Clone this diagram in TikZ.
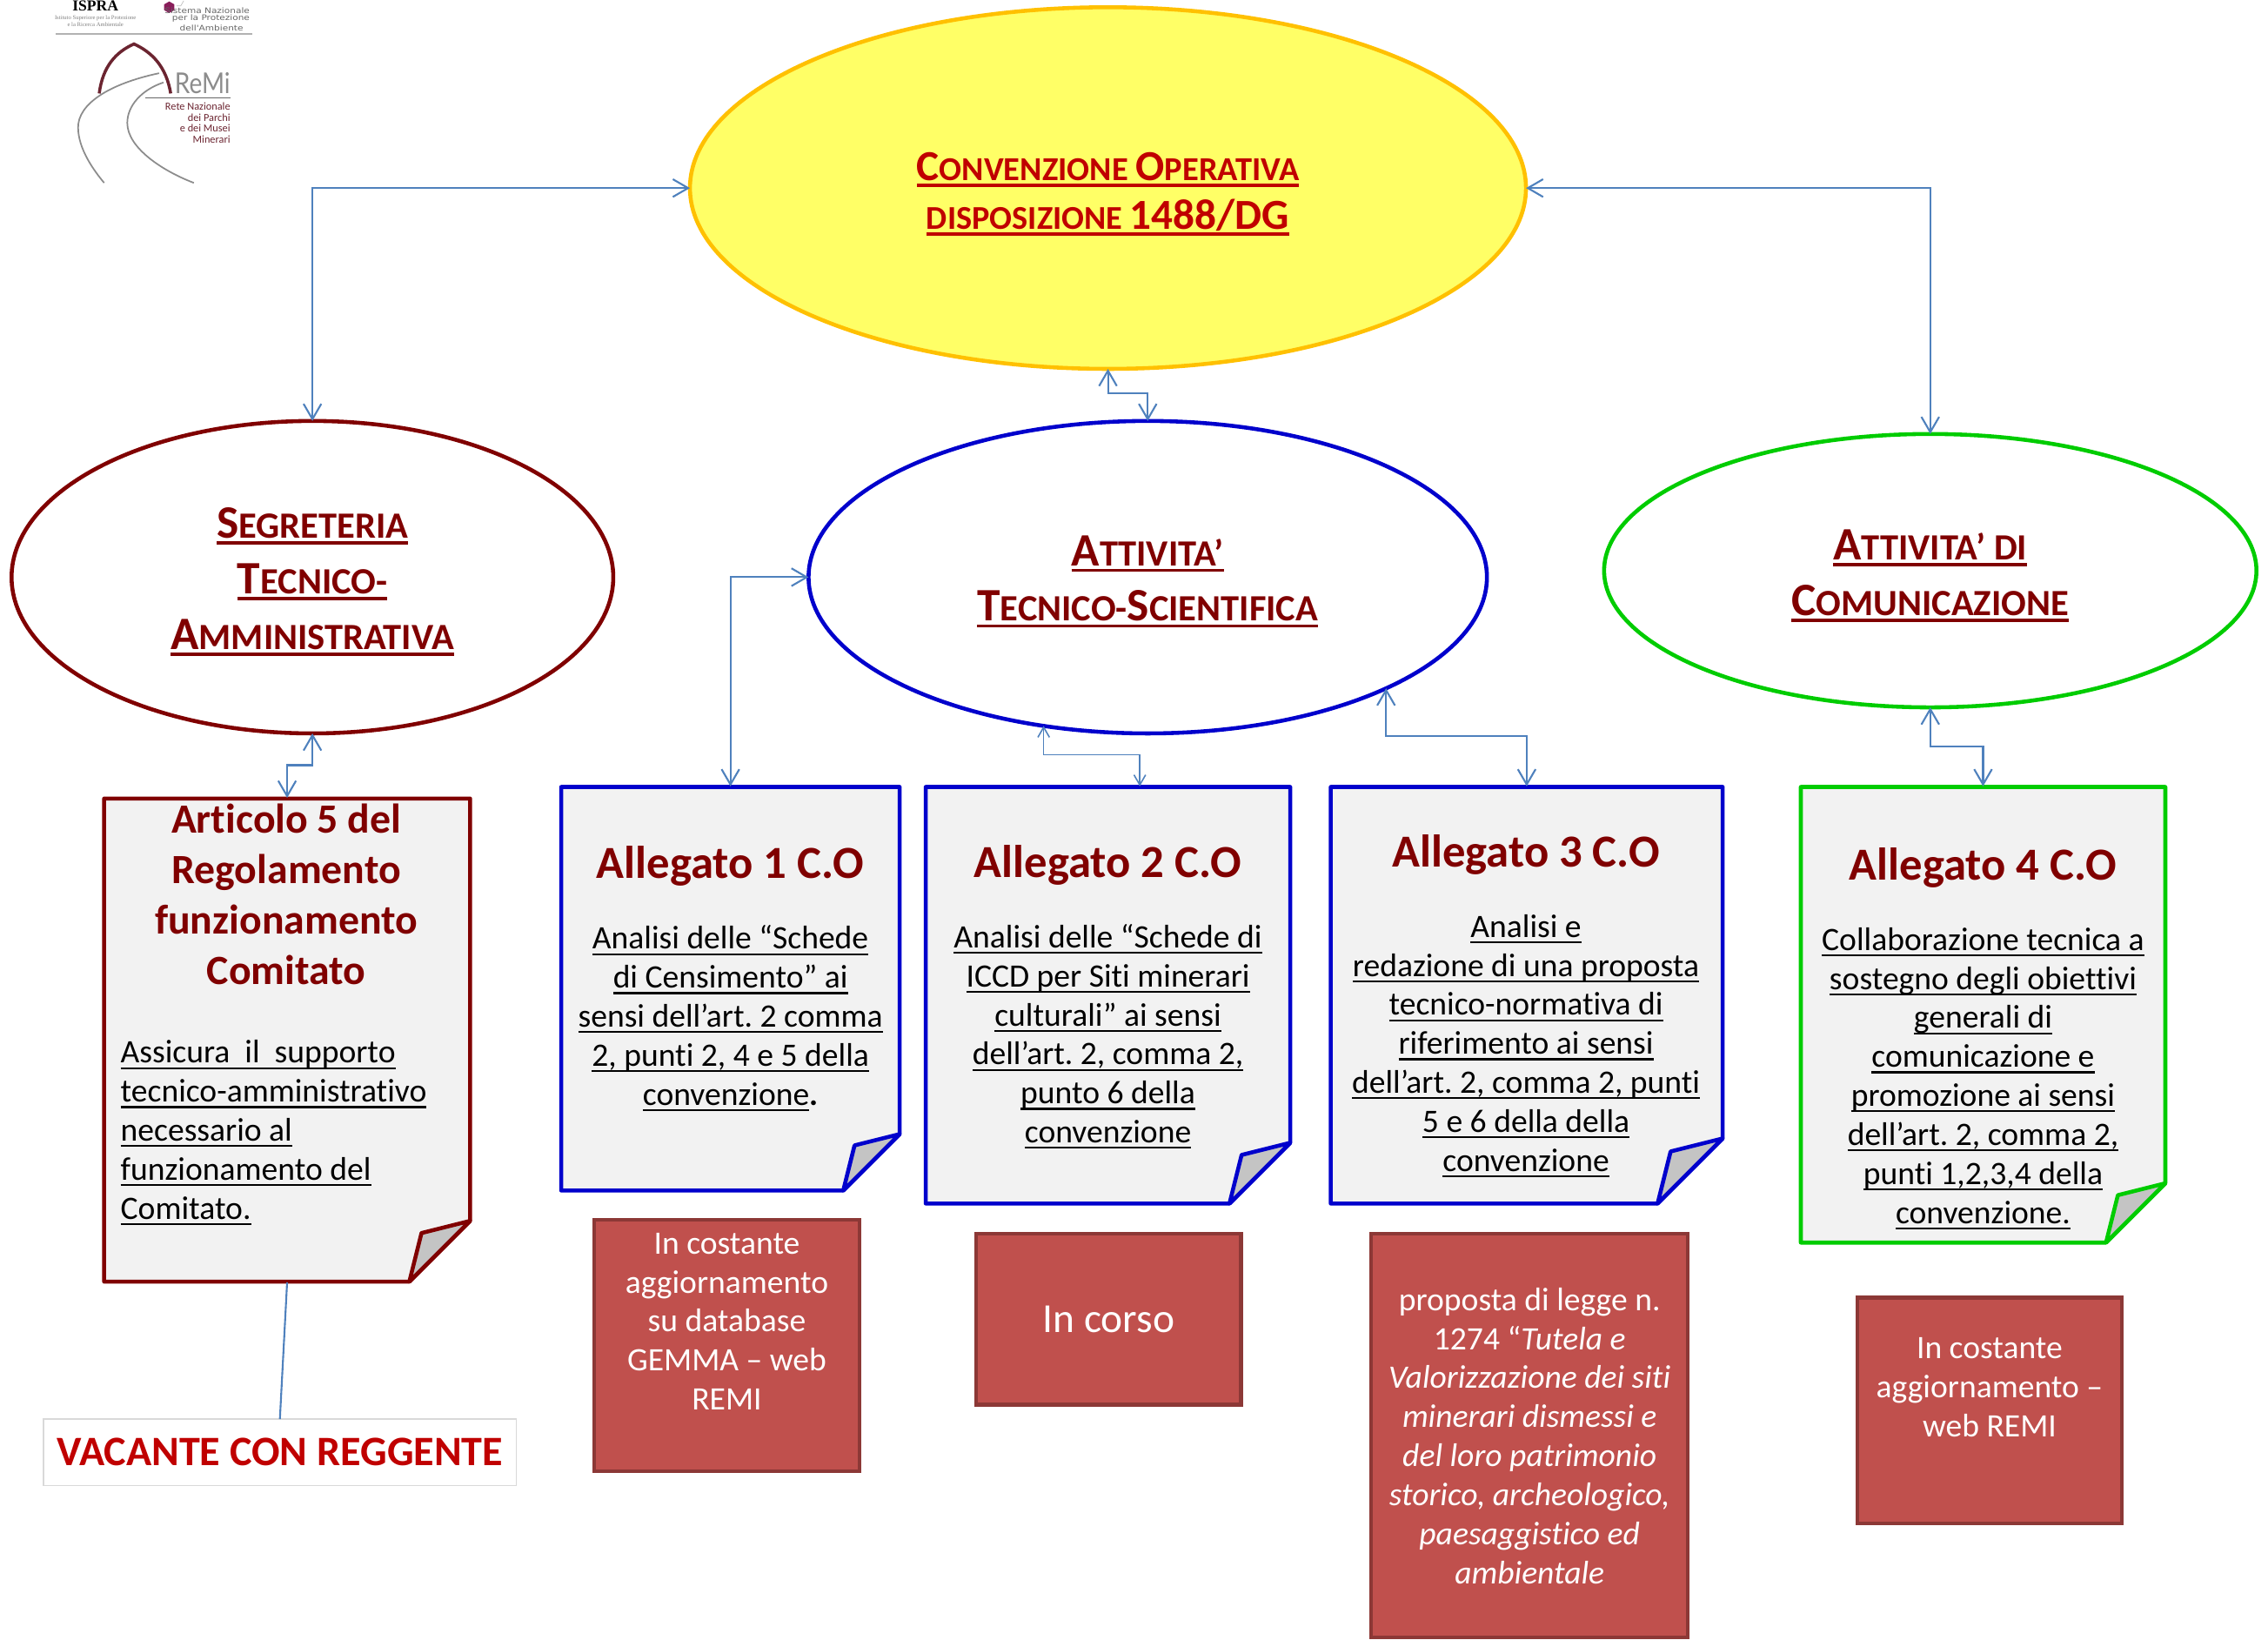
\documentclass[tikz,border=0pt]{standalone}
\usepackage{fontspec}
\setmainfont{Carlito}[Ligatures=NoCommon]
\newfontfamily\logoserif{Liberation Serif}
\newfontfamily\logosans{DejaVu Sans}[FakeStretch=1.2]
\newfontfamily\remifont{Lato}[FakeStretch=0.85]
\usetikzlibrary{arrows.meta,calc,shapes.geometric}
\frenchspacing

\definecolor{convfill}{HTML}{FFFF66}
\definecolor{convline}{HTML}{FFC000}
\definecolor{maroon}{HTML}{800000}
\definecolor{titlered}{HTML}{C00000}
\definecolor{techblue}{HTML}{0000CC}
\definecolor{commgreen}{HTML}{00CC00}
\definecolor{linkblue}{HTML}{4F81BD}
\definecolor{statefill}{HTML}{C0504D}
\definecolor{stateline}{HTML}{8C3836}
\definecolor{pagefill}{HTML}{F2F2F2}
\definecolor{foldfill}{HTML}{C4C4C4}
\definecolor{remired}{HTML}{6B2430}

\def\pxu{0.016626cm}
\newcommand{\ulin}[1]{\setbox0=\hbox{#1}\rlap{\rule[-1.95pt]{\wd0}{0.62pt}}\box0}
\newcommand{\ulbold}[1]{\setbox0=\hbox{#1}\rlap{\rule[-2.1pt]{\wd0}{1pt}}\box0}
\newcommand{\capsc}[2]{{\fontsize{15.2}{18.2}\selectfont #1}{\fontsize{12.1}{18.2}\selectfont #2}}
% name, colour, left, top, right, bottom, fold
\newcommand{\notepage}[7]{%
\draw [#2, pageline, fill=pagefill] (#3,#4) -- (#5,#4) -- (#5,{#6-#7}) -- ({#5-#7},#6) -- (#3,#6) -- cycle;
\draw [#2, pageline, fill=foldfill] ({#5-#7},#6) -- ({#5-.8*#7},{#6-.8*#7}) -- (#5,{#6-#7}) -- cycle;
\node [minimum width={(#5-#3)*\pxu}, minimum height={(#6-#4)*\pxu}] (#1) at ({(#3+#5)/2},{(#4+#6)/2}) {};
}

\tikzset{
  oval/.style={ellipse, inner sep=0pt, outer sep=0pt, line width=1.3pt},
  ovaltext/.style={align=center, text=maroon, font=\fontsize{15.2}{18.2}\selectfont\bfseries},
  pageline/.style={line width=1.3pt, line join=round},
  link/.style={linkblue, line width=0.6pt, {Straight Barb[length=5pt,width=5.8pt]}-{Straight Barb[length=5pt,width=5.8pt]}},
  thinlink/.style={linkblue, line width=0.45pt, {Straight Barb[length=3.3pt,width=3.8pt]}-{Straight Barb[length=3.3pt,width=3.8pt]}},
  headtext/.style={text=maroon, align=center, font=\fontsize{15}{16.5}\selectfont\bfseries},
  bodytext/.style={align=center, font=\fontsize{10.7}{12.76}\selectfont},
  statebox/.style={draw=stateline, fill=statefill, line width=1.2pt, inner sep=0pt, outer sep=0pt,
    text=white, align=center, font=\fontsize{10.7}{12.76}\selectfont},
}

\begin{document}
\begin{tikzpicture}[x=\pxu, y=-\pxu]
\useasboundingbox (0,0) rectangle (1568,1133.7);

% logos
\node [font=\logoserif\bfseries\fontsize{5}{5}\selectfont] (ispra) at (66,4) {ISPRA};
\node [font=\logoserif\fontsize{1.9}{2.3}\selectfont, text=gray, align=center] (ispratxt) at (66,14.5)
  {Istituto Superiore per la Protezione\\e la Ricerca Ambientale};
\fill [remired!80!magenta] (113.5,3) -- (117,1) -- (120.5,3) -- (120.5,7) -- (117,9) -- (113.5,7) -- cycle;
\draw [black!25, line width=0.2pt] (122,4) -- (125,4) -- (127,0.5);
\node [font=\logosans\fontsize{2.5}{2.2}\selectfont, text=black!60, align=right, anchor=north east, inner sep=0pt] (snpa) at (173,5)
  {Sistema Nazionale\\per la Protezione\hspace*{4.7pt}\\dell'Ambiente\hspace*{2.1pt}};
\draw [black!30, line width=0.6pt] (38.4,23.6) -- (174.4,23.6);
\draw [remired, line width=1pt] (68.6,64.6) .. controls (71,46) and (80,36) .. (92.6,30.4) .. controls (105,36) and (115,46) .. (118,64.6);
\draw [black!45, line width=0.5pt] (110,50.6) .. controls (75,58) and (54,72) .. (54,88) .. controls (54,103) and (65,118) .. (72,126.4);
\draw [black!45, line width=0.5pt] (113,57) .. controls (98,62) and (88,73) .. (88,85) .. controls (88,102) and (112,118) .. (134,126.4);
\node [font=\remifont\fontsize{9.4}{10}\selectfont, text=black!45, anchor=base east, inner sep=0pt] (remi) at (159.6,64.6) {ReMi};
\draw [black!60, line width=0.3pt] (100.6,67.6) -- (159.6,67.6);
\node [font=\fontsize{3.5}{3.6}\selectfont, text=remired, align=right, anchor=north east, inner sep=0pt] (retetxt) at (159.6,70.5)
  {Rete Nazionale\\dei Parchi\\e dei Musei\\Minerari};

% ovals
\node [oval, draw=convline, fill=convfill, minimum width=578*\pxu, minimum height=250*\pxu] (conv) at (766,130) {};
\node [oval, draw=maroon, minimum width=416*\pxu, minimum height=216*\pxu] (segr) at (216,399) {};
\node [oval, draw=techblue, minimum width=469*\pxu, minimum height=216*\pxu] (tecn) at (793.5,399) {};
\node [oval, draw=commgreen, minimum width=451*\pxu, minimum height=189*\pxu] (comm) at (1334.5,394.5) {};

\node [ovaltext, text=titlered, font=\fontsize{14}{16}\selectfont\bfseries] (convtxt) at (766,134)
  {\ulbold{{\fontsize{14}{16}\selectfont C}{\fontsize{10.95}{16}\selectfont ONVENZIONE }{\fontsize{14}{16}\selectfont O}{\fontsize{10.95}{16}\selectfont PERATIVA}}\\
   \ulbold{{\fontsize{10.9}{16}\selectfont DISPOSIZIONE }{\fontsize{14}{16}\selectfont 1488/DG}}};
\node [ovaltext] (segrtxt) at (216,402)
  {\ulbold{\capsc{S}{EGRETERIA}}\\\ulbold{\capsc{T}{ECNICO-}}\\\ulbold{\capsc{A}{MMINISTRATIVA}}};
\node [ovaltext] (tecntxt) at (793.5,402)
  {\ulbold{\capsc{A}{TTIVITA’}}\\\ulbold{\capsc{T}{ECNICO-}\capsc{S}{CIENTIFICA}}};
\node [ovaltext] (commtxt) at (1334.5,398)
  {\ulbold{\capsc{A}{TTIVITA’ DI}}\\\ulbold{\capsc{C}{OMUNICAZIONE}}};

% pages
\notepage{art}{maroon}{72}{552}{325}{886}{42}
\notepage{allone}{techblue}{388}{544}{622}{823}{39}
\notepage{alltwo}{techblue}{640}{544}{892}{832}{42}
\notepage{allthree}{techblue}{920}{544}{1191}{832}{45}
\notepage{allfour}{commgreen}{1245}{544}{1497}{859}{41}

\node [headtext, font=\fontsize{13.6}{16.5}\selectfont\bfseries] (arthead) at (198,618) {Articolo 5 del\\Regolamento\\funzionamento\\Comitato};
\node [bodytext, align=left, anchor=west, inner sep=0pt] (artbody) at (83,783)
  {\ulin{Assicura\ \ il\ \ supporto}\\\ulin{tecnico-amministrativo}\\\ulin{necessario al}\\\ulin{funzionamento del}\\\ulin{Comitato.}};
\node [headtext] (allonehead) at (505,599) {Allegato 1 C.O};
\node [bodytext] (allonebody) at (505,704)
  {\ulin{Analisi delle “Schede}\\\ulin{di Censimento” ai}\\\ulin{sensi dell’art. 2 comma}\\\ulin{2, punti 2, 4 e 5 della}\\\ulin{convenzione}\textbf{.}};
\node [headtext] (alltwohead) at (766,598) {Allegato 2 C.O};
\node [bodytext] (alltwobody) at (766,716.5)
  {\ulin{Analisi delle “Schede di}\\\ulin{ICCD per Siti minerari}\\\ulin{culturali” ai sensi}\\\ulin{dell’art. 2, comma 2,}\\\ulin{punto 6 della}\\\ulin{convenzione}};
\node [headtext] (allthreehead) at (1055,591) {Allegato 3 C.O};
\node [bodytext] (allthreebody) at (1055,723)
  {\ulin{Analisi e}\\\ulin{redazione di una proposta}\\\ulin{tecnico-normativa di}\\\ulin{riferimento ai sensi}\\\ulin{dell’art. 2, comma 2, punti}\\\ulin{5 e 6 della della}\\\ulin{convenzione}};
\node [headtext] (allfourhead) at (1371,600) {Allegato 4 C.O};
\node [bodytext] (allfourbody) at (1371,745.5)
  {\ulin{Collaborazione tecnica a}\\\ulin{sostegno degli obiettivi}\\\ulin{generali di}\\\ulin{comunicazione e}\\\ulin{promozione ai sensi}\\\ulin{dell’art. 2, comma 2,}\\\ulin{punti 1,2,3,4 della}\\\ulin{convenzione.}};

% state boxes
\node [statebox, minimum width=183*\pxu, minimum height=174*\pxu] (stateone) at (502.5,930)
  {In costante\\aggiornamento\\su database\\GEMMA -- web\\REMI\\[2.84pt]\mbox{}};
\node [statebox, minimum width=183*\pxu, minimum height=118*\pxu, font=\fontsize{13.5}{16}\selectfont] (statetwo) at (766.5,912) {In corso};
\node [statebox, minimum width=219*\pxu, minimum height=279*\pxu] (statethree) at (1057.5,992.5)
  {proposta di legge n.\\1274 “\textit{Tutela e}\\\textit{Valorizzazione dei siti}\\\textit{minerari dismessi e}\\\textit{del loro patrimonio}\\\textit{storico, archeologico,}\\\textit{paesaggistico ed}\\\textit{ambientale}};
\node [statebox, minimum width=183*\pxu, minimum height=156*\pxu] (statefour) at (1375.5,975)
  {In costante\\aggiornamento --\\web REMI\\[2.4pt]\mbox{}};
\node [draw=black!15, fill=white, line width=0.5pt, text=titlered, inner sep=0pt, outer sep=0pt,
  minimum width=327*\pxu, minimum height=46*\pxu, font=\fontsize{13.7}{16}\selectfont\bfseries] (vac) at (193.5,1004) {VACANTE CON REGGENTE};

% connectors
\draw [link] (conv.west) -| (segr.north);
\draw [link] (conv.east) -| (comm.north);
\draw [link] (conv.south) -- ++(0,17) -| (tecn.north);
\draw [link] (tecn.west) -| (allone.north);
\draw [link] (segr.south) -- ++(0,22) -| (art.north);
\draw [link] (comm.south) -- ++(0,27) -| (allfour.north);
\draw [link] (tecn.-25) -- ++(0,33) -| (allthree.north);
\draw [thinlink] (tecn.-125) -- ++(0,20) -| ($(alltwo.north)+(22,0)$);
\draw [linkblue, line width=0.6pt] (art.south) -- (vac.north);
\end{tikzpicture}
\end{document}
